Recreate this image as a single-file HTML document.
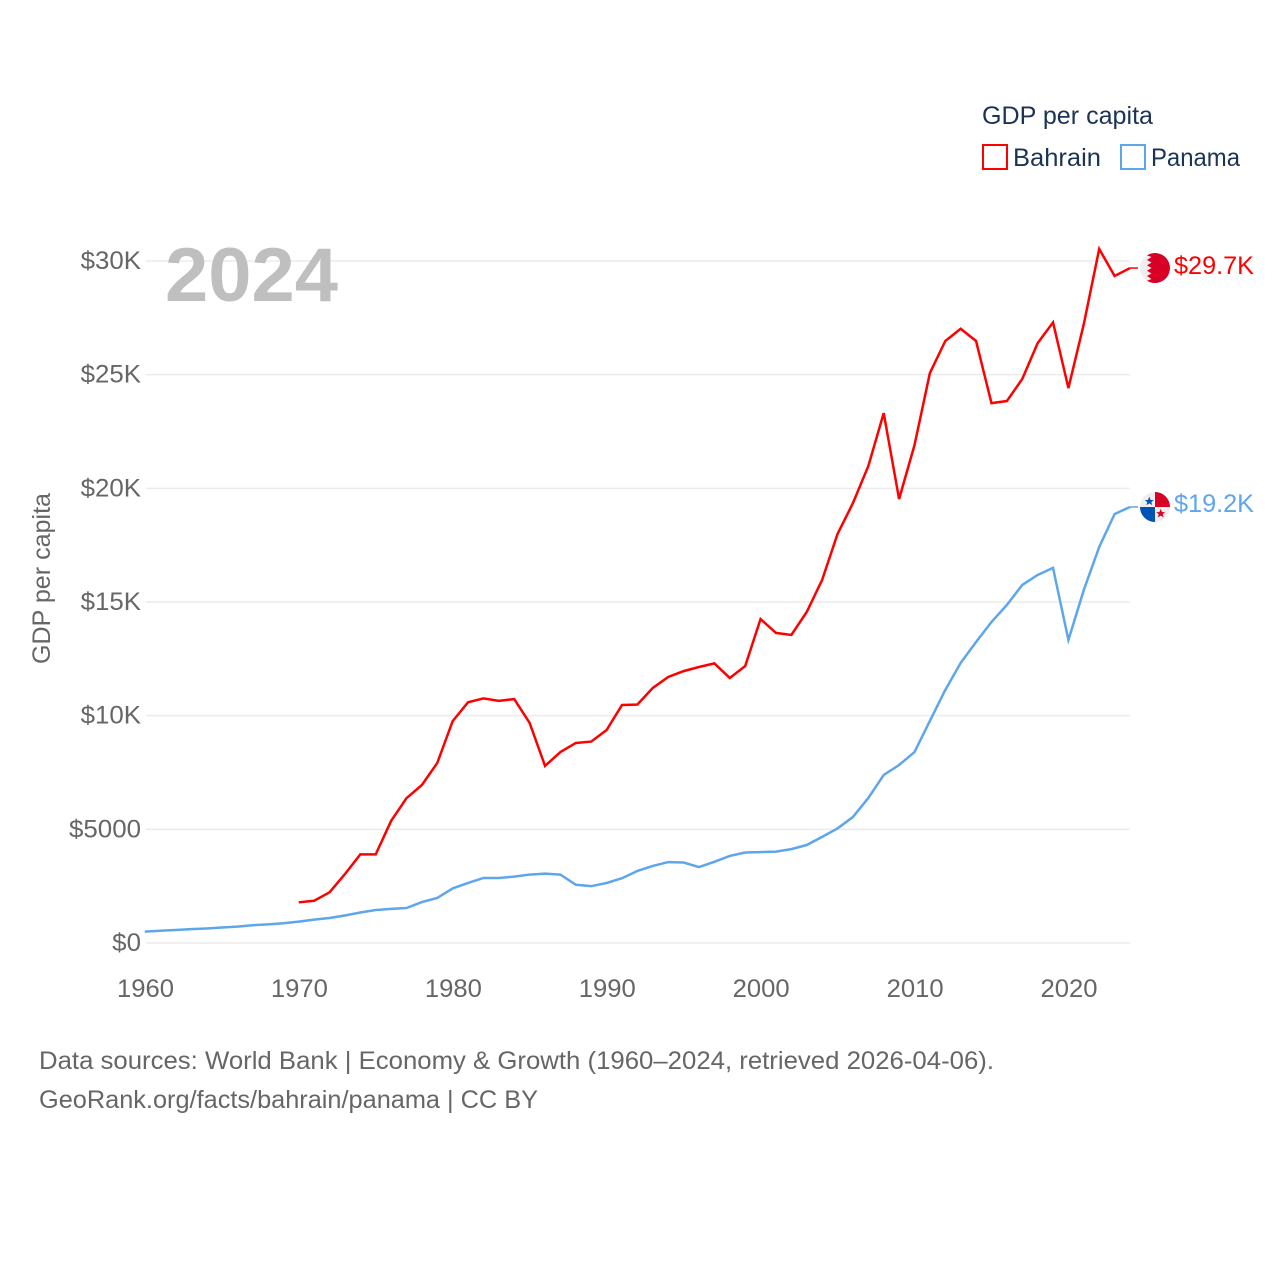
<!DOCTYPE html>
<html lang="en">
<head>
<meta charset="utf-8">
<title>GDP per capita: Bahrain and Panama</title>
<style>
html,body{margin:0;padding:0;background:#fff;}
svg{display:block;font-family:"Liberation Sans",sans-serif;}
</style>
</head>
<body>
<svg id="chart" xmlns="http://www.w3.org/2000/svg" width="1280" height="1280" viewBox="0 0 1280 1280">
  <rect x="0" y="0" width="1280" height="1280" fill="#ffffff"/>
  <g id="grid"></g>
  <g id="yticks"></g>
  <g id="xticks"></g>
  <text x="165" y="301" font-size="76" font-weight="700" fill="#bfbfbf" textLength="173" lengthAdjust="spacingAndGlyphs">2024</text>
  <text transform="translate(50,664) rotate(-90)" font-size="25" fill="#666666" textLength="171" lengthAdjust="spacingAndGlyphs">GDP per capita</text>
  <g id="series"></g>
  <g id="flag-bahrain">
    <circle cx="0" cy="0" r="15" fill="#eeeeee"/>
    <path d="M-8,-12.7 A15,15 0 1 1 -8,12.7 L-3.5,11 L-8,8 L-3.5,5.5 L-8,2.7 L-3.5,0 L-8,-2.7 L-3.5,-5.5 L-8,-8 L-3.5,-11 Z" fill="#d80027"/>
  </g>
  <g id="flag-panama">
    <circle cx="0" cy="0" r="15" fill="#eeeeee"/>
    <path d="M0,0 L0,-15 A15,15 0 0 1 15,0 Z" fill="#d80027"/>
    <path d="M0,0 L-15,0 A15,15 0 0 0 0,15 Z" fill="#0052b4"/>
    <polygon transform="translate(0.8,0.6)" points="-6.5,-11 -5.2,-7.6 -2,-7.6 -4.5,-5.5 -3.6,-2.4 -6.5,-4.2 -9.4,-2.4 -8.5,-5.5 -11,-7.6 -7.8,-7.6" fill="#0052b4"/>
    <polygon transform="translate(-0.8,-0.6)" points="6.5,2.4 7.8,5.8 11,5.8 8.5,7.9 9.4,11 6.5,9.2 3.6,11 4.5,7.9 2,5.8 5.2,5.8" fill="#d80027"/>
  </g>
  <g id="end-labels"></g>
  <g>
    <text x="982" y="124" font-size="25" fill="#1b3354" textLength="171" lengthAdjust="spacingAndGlyphs">GDP per capita</text>
    <rect x="983" y="145" width="24" height="24" fill="#ffffff" stroke="#ff0000" stroke-width="2"/>
    <text x="1013" y="166" font-size="25" fill="#1b3354" textLength="88" lengthAdjust="spacingAndGlyphs">Bahrain</text>
    <rect x="1121" y="145" width="24" height="24" fill="#ffffff" stroke="#5ea6ec" stroke-width="2"/>
    <text x="1151" y="166" font-size="25" fill="#1b3354" textLength="89" lengthAdjust="spacingAndGlyphs">Panama</text>
  </g>
  <text x="39" y="1069" font-size="25" fill="#666666" textLength="955" lengthAdjust="spacingAndGlyphs">Data sources: World Bank | Economy &amp; Growth (1960–2024, retrieved 2026-04-06).</text>
  <text x="39" y="1108" font-size="25" fill="#666666" textLength="499" lengthAdjust="spacingAndGlyphs">GeoRank.org/facts/bahrain/panama | CC BY</text>
</svg>
<script>
const yTickValues = [0, 5000, 10000, 15000, 20000, 25000, 30000];
const yTickLabels = ["$0", "$5000", "$10K", "$15K", "$20K", "$25K", "$30K"];
const xTickValues = [1960, 1970, 1980, 1990, 2000, 2010, 2020];
const bahrainStartYear = 1970;
const panamaStartYear = 1960;
const bahrainValues = [1790,1860,2230,3030,3900,3900,5370,6370,6950,7920,9760,10590,10760,10650,10730,9680,7790,8400,8800,8860,9370,10470,10490,11220,11700,11960,12140,12300,11660,12180,14250,13640,13550,14560,15970,17990,19350,20980,23310,19530,21900,25070,26480,27020,26480,23750,23840,24810,26390,27300,24410,27230,30530,29340,29690];
const panamaValues = [500,540,570,610,640,680,720,780,820,870,940,1030,1100,1210,1340,1450,1500,1540,1800,1980,2400,2640,2860,2860,2920,3010,3050,3010,2560,2500,2640,2850,3170,3390,3560,3540,3340,3570,3830,3980,4000,4020,4130,4310,4670,5040,5540,6380,7390,7830,8400,9770,11130,12320,13240,14120,14870,15750,16190,16500,13330,15530,17420,18870,19180];
const bahrainColor = "#ff0000";
const panamaColor = "#5ea6ec";

const NS = "http://www.w3.org/2000/svg";
function xScale(year) { return 144.8 + (year - 1960) * (1130 - 144.8) / 64; }
function xLabelScale(year) { return 146 + (year - 1960) * (1069.5 - 146) / 60; }
function yScale(value) { return 943 - value * (943 - 261) / 30000; }
function fmtK(value) { return "$" + (value / 1000).toFixed(1) + "K"; }
function make(tag, parent) { const el = document.createElementNS(NS, tag); parent.appendChild(el); return el; }
function pointsFor(values, startYear) {
  return values.map(function (v, i) { return xScale(startYear + i).toFixed(2) + "," + yScale(v).toFixed(2); }).join(" ");
}

const gridGroup = document.getElementById("grid");
const yGroup = document.getElementById("yticks");
const xGroup = document.getElementById("xticks");
const seriesGroup = document.getElementById("series");
const labelGroup = document.getElementById("end-labels");

yTickValues.forEach(function (value, i) {
  const line = make("line", gridGroup);
  
  
  line.setAttribute("x1", 146);
  line.setAttribute("x2", 1130);
  line.setAttribute("y1", yScale(value));
  line.setAttribute("y2", yScale(value));
  line.setAttribute("stroke", "#ebebeb");
  line.setAttribute("stroke-width", 1.5);

  const label = make("text", yGroup);
  
  
  label.setAttribute("x", 141);
  label.setAttribute("y", yScale(value) + 8);
  label.setAttribute("text-anchor", "end");
  label.setAttribute("font-size", 25);
  label.setAttribute("fill", "#666666");
  label.textContent = yTickLabels[i];
  label.setAttribute("textLength", (label.getComputedTextLength() * 1.035).toFixed(1));
  label.setAttribute("lengthAdjust", "spacingAndGlyphs");
});

xTickValues.forEach(function (year) {
  const label = make("text", xGroup);
  
  
  label.setAttribute("x", xLabelScale(year) - 0.5);
  label.setAttribute("y", 997);
  label.setAttribute("text-anchor", "middle");
  label.setAttribute("font-size", 25);
  label.setAttribute("fill", "#666666");
  label.setAttribute("textLength", 57);
  label.setAttribute("lengthAdjust", "spacingAndGlyphs");
  label.textContent = String(year);
});

const bahrainLine = make("polyline", seriesGroup);


bahrainLine.setAttribute("points", pointsFor(bahrainValues, bahrainStartYear));
bahrainLine.setAttribute("fill", "none");
bahrainLine.setAttribute("stroke", bahrainColor);
bahrainLine.setAttribute("stroke-width", 2.5);
bahrainLine.setAttribute("stroke-linejoin", "miter");

const panamaLine = make("polyline", seriesGroup);


panamaLine.setAttribute("points", pointsFor(panamaValues, panamaStartYear));
panamaLine.setAttribute("fill", "none");
panamaLine.setAttribute("stroke", panamaColor);
panamaLine.setAttribute("stroke-width", 2.5);
panamaLine.setAttribute("stroke-linejoin", "miter");

const bahrainLast = bahrainValues[bahrainValues.length - 1];
const panamaLast = panamaValues[panamaValues.length - 1];

const bahrainConnector = make("line", seriesGroup);


bahrainConnector.setAttribute("x1", xScale(2024));
bahrainConnector.setAttribute("x2", xScale(2024) + 8);
bahrainConnector.setAttribute("y1", yScale(bahrainLast));
bahrainConnector.setAttribute("y2", yScale(bahrainLast));
bahrainConnector.setAttribute("stroke", bahrainColor);
bahrainConnector.setAttribute("stroke-width", 1.5);

const panamaConnector = make("line", seriesGroup);


panamaConnector.setAttribute("x1", xScale(2024));
panamaConnector.setAttribute("x2", xScale(2024) + 8);
panamaConnector.setAttribute("y1", yScale(panamaLast));
panamaConnector.setAttribute("y2", yScale(panamaLast));
panamaConnector.setAttribute("stroke", panamaColor);
panamaConnector.setAttribute("stroke-width", 1.5);

document.getElementById("flag-bahrain").setAttribute("transform", "translate(1155," + yScale(bahrainLast) + ")");
document.getElementById("flag-panama").setAttribute("transform", "translate(1155," + yScale(panamaLast) + ")");

const bahrainLabel = make("text", labelGroup);


bahrainLabel.setAttribute("x", 1174);
bahrainLabel.setAttribute("y", yScale(bahrainLast) + 6);
bahrainLabel.setAttribute("font-size", 25);
bahrainLabel.setAttribute("fill", bahrainColor);
bahrainLabel.setAttribute("textLength", 80);
bahrainLabel.setAttribute("lengthAdjust", "spacingAndGlyphs");
bahrainLabel.textContent = fmtK(bahrainLast);

const panamaLabel = make("text", labelGroup);


panamaLabel.setAttribute("x", 1174);
panamaLabel.setAttribute("y", yScale(panamaLast) + 5);
panamaLabel.setAttribute("font-size", 25);
panamaLabel.setAttribute("fill", panamaColor);
panamaLabel.setAttribute("textLength", 80);
panamaLabel.setAttribute("lengthAdjust", "spacingAndGlyphs");
panamaLabel.textContent = fmtK(panamaLast);
</script>
</body>
</html>
